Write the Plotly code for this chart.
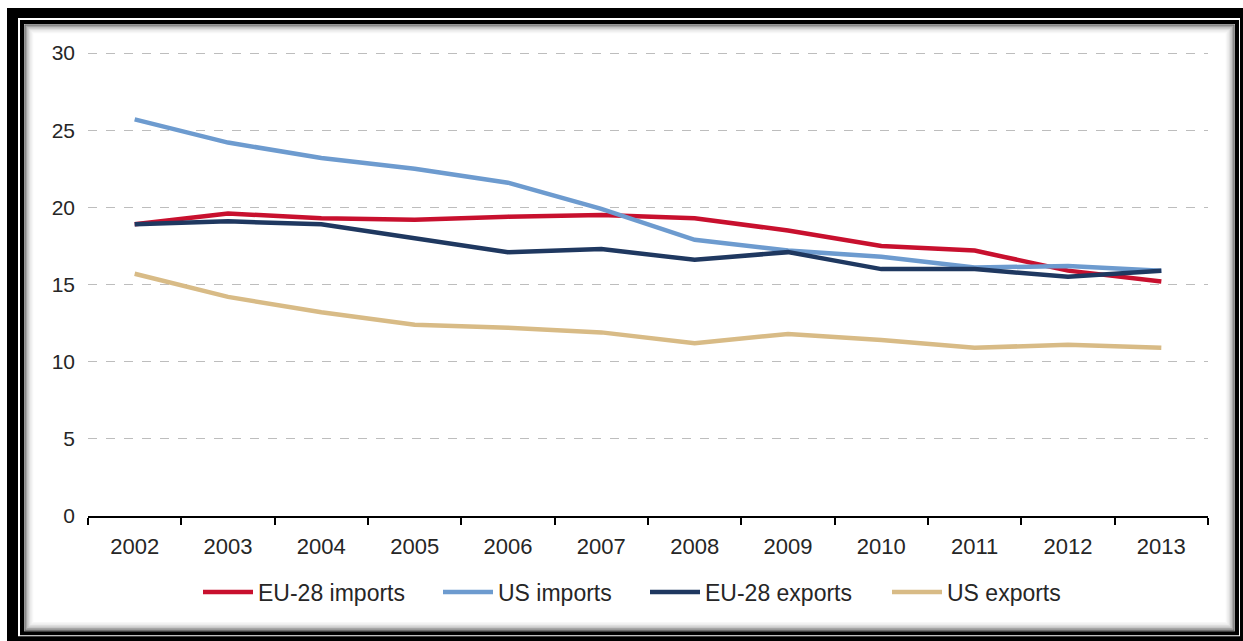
import plotly.graph_objects as go

years = ["2002", "2003", "2004", "2005", "2006", "2007", "2008", "2009", "2010", "2011", "2012", "2013"]
eu_imports = [18.9, 19.6, 19.3, 19.2, 19.4, 19.5, 19.3, 18.5, 17.5, 17.2, 15.9, 15.2]
us_imports = [25.7, 24.2, 23.2, 22.5, 21.6, 19.9, 17.9, 17.2, 16.8, 16.1, 16.2, 15.9]
eu_exports = [18.9, 19.1, 18.9, 18.0, 17.1, 17.3, 16.6, 17.1, 16.0, 16.0, 15.5, 15.9]
us_exports = [15.7, 14.2, 13.2, 12.4, 12.2, 11.9, 11.2, 11.8, 11.4, 10.9, 11.1, 10.9]
y_ticks = [0, 5, 10, 15, 20, 25, 30]

series = [
    ("EU-28 imports", eu_imports, "#c8102e"),
    ("US imports", us_imports, "#6d9bcf"),
    ("EU-28 exports", eu_exports, "#1f3860"),
    ("US exports", us_exports, "#d8bb86"),
]
# left edge (px) of each legend entry along the bottom row
legend_left = [206, 446, 653, 895]

W, H = 1243, 641
L, R, T, B = 88, 1208, 53, 516


def px(x):
    return (x - L) / (R - L)


def py(y):
    return (B - y) / (B - T)


fig = go.Figure()
legends = {}
for i, (name, vals, color) in enumerate(series):
    key = "legend" if i == 0 else f"legend{i + 1}"
    fig.add_trace(go.Scatter(x=years, y=vals, name=name, mode="lines",
                             line=dict(color=color, width=4.5), legend=key))
    legends[key] = dict(orientation="h", x=px(legend_left[i] - 8), xanchor="left",
                        y=py(592), yanchor="middle", itemwidth=50,
                        font=dict(size=23, color="#262626"),
                        bgcolor="rgba(0,0,0,0)")


def frame(x0, y0, x1, y1, **kw):
    return dict(type="rect", xref="paper", yref="paper", layer="below",
                x0=px(x0), x1=px(x1), y0=py(y1), y1=py(y0), **kw)


shapes = [
    frame(7, 9, 1243, 641, fillcolor="black", line=dict(width=0)),
    frame(18, 19, 1240, 636, fillcolor="white", line=dict(width=0)),
    frame(22, 23, 1237, 633, fillcolor="white", line=dict(color="black", width=4)),
]
# soft inner shadow along the panel edge
for i, a in enumerate([0.55, 0.35, 0.22, 0.13, 0.07, 0.03]):
    d = 25 + i * 1.5
    shapes.append(frame(d, d + 1, 1234 - i * 1.5, 630 - i * 1.5,
                        line=dict(color=f"rgba(0,0,0,{a})", width=1.5)))

fig.update_layout(
    width=W, height=H,
    margin=dict(l=L, r=W - R, t=T - 1, b=H - B),
    paper_bgcolor="white", plot_bgcolor="white",
    font=dict(family="Liberation Sans, Arial, sans-serif", size=21, color="#262626"),
    shapes=shapes,
    showlegend=True,
    xaxis=dict(type="category", range=[-0.5, 11.5], showgrid=False, showline=True,
               linecolor="black", linewidth=1.5, ticks="outside", tickson="boundaries",
               ticklen=7, tickcolor="black", tickwidth=1.5, zeroline=False,
               ticklabelstandoff=10, tickfont=dict(size=22)),
    yaxis=dict(range=[0, 30.07], tickvals=y_ticks, showgrid=True, gridcolor="#bdbdbd",
               griddash="dash", gridwidth=1, showline=False, zeroline=False,
               ticks="", ticklabelstandoff=12, tickfont=dict(size=21)),
    **legends,
)

fig.write_html("out.html")
